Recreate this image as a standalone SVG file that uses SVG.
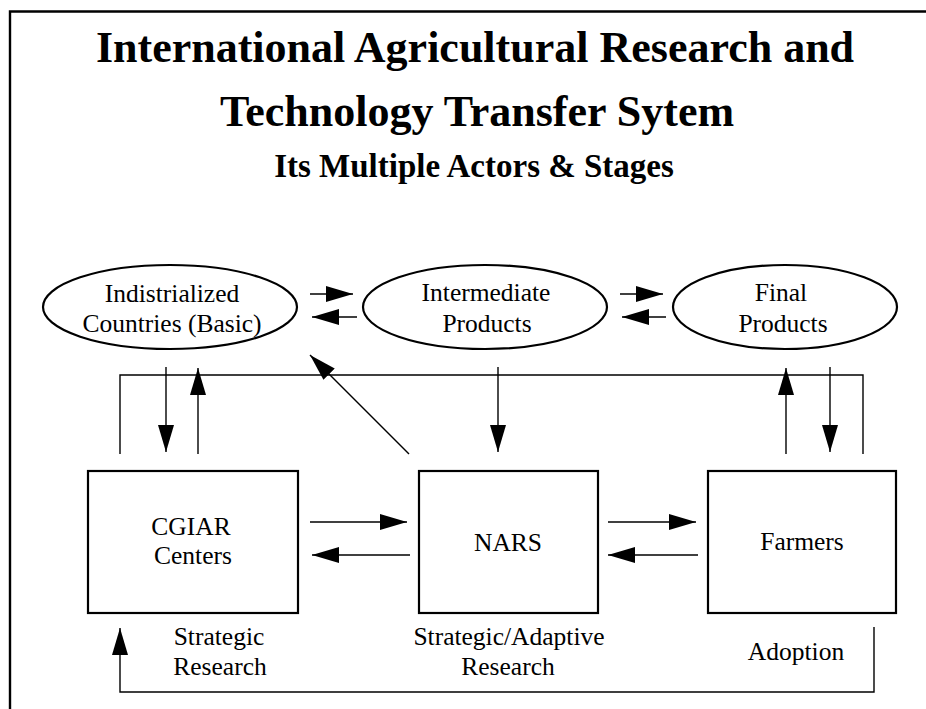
<svg xmlns="http://www.w3.org/2000/svg" width="926" height="709" viewBox="0 0 926 709">
<defs>
<style>
.t{font-family:"Liberation Serif","Times New Roman",serif;fill:#000;text-anchor:middle}
.h{font-weight:bold}
.n{font-size:25.5px}
.shape{fill:#fff;stroke:#000;stroke-width:2.2}
.c{fill:none;stroke:#000;stroke-width:1.4}
.a{marker-end:url(#ah)}
</style>
<marker id="ah" markerUnits="userSpaceOnUse" markerWidth="28" markerHeight="17" refX="27" refY="8" orient="auto">
<path d="M0,0 L27,8 L0,16 Z" fill="#000"/>
</marker>
</defs>
<rect width="926" height="709" fill="#fff"/>
<path d="M10,709 V11.5 H926" fill="none" stroke="#000" stroke-width="2.4"/>
<g id="title">
<text class="t h" x="475" y="62" font-size="44">International Agricultural Research and</text>
<text class="t h" x="477" y="126" font-size="44">Technology Transfer Sytem</text>
<text class="t h" x="474" y="177" font-size="33">Its Multiple Actors &amp; Stages</text>
</g>
<g id="industrialized">
<ellipse class="shape" cx="170" cy="307" rx="127" ry="42"/>
<text class="t n" x="172" y="302">Indistrialized</text>
<text class="t n" x="172" y="332">Countries (Basic)</text>
</g>
<g id="intermediate">
<ellipse class="shape" cx="485" cy="307" rx="122" ry="42"/>
<text class="t n" x="486" y="301">Intermediate</text>
<text class="t n" x="487" y="332">Products</text>
</g>
<g id="final">
<ellipse class="shape" cx="785" cy="307" rx="112" ry="42"/>
<text class="t n" x="781" y="301">Final</text>
<text class="t n" x="783" y="332">Products</text>
</g>
<g id="cgiar">
<rect class="shape" x="88" y="471" width="210" height="142"/>
<text class="t n" x="191" y="535">CGIAR</text>
<text class="t n" x="193" y="564">Centers</text>
</g>
<g id="nars">
<rect class="shape" x="419" y="471" width="179" height="142"/>
<text class="t n" x="508" y="551">NARS</text>
</g>
<g id="farmers">
<rect class="shape" x="708" y="471" width="188" height="142"/>
<text class="t n" x="802" y="550">Farmers</text>
</g>
<g id="labels">
<text class="t n" x="219" y="645">Strategic</text>
<text class="t n" x="220" y="675">Research</text>
<text class="t n" x="509" y="645">Strategic/Adaptive</text>
<text class="t n" x="508" y="675">Research</text>
<text class="t n" x="796" y="660">Adoption</text>
</g>
<g id="connectors">
<path class="c a" d="M310,294 H353"/>
<path class="c a" d="M357,317 H312"/>
<path class="c a" d="M620,294 H663"/>
<path class="c a" d="M666,317 H622"/>
<path class="c a" d="M166,367 V452"/>
<path class="c a" d="M198,454 V368"/>
<path class="c a" d="M409,454 L310,355"/>
<path class="c a" d="M498,367 V452"/>
<path class="c a" d="M786,454 V368"/>
<path class="c a" d="M830,367 V452"/>
<path class="c" d="M120,454 V375 H863 V454"/>
<path class="c a" d="M310,522 H407"/>
<path class="c a" d="M410,555 H312"/>
<path class="c a" d="M608,522 H696"/>
<path class="c a" d="M698,555 H608"/>
<path class="c a" d="M874,627 V692 H120 V628"/>
</g>
</svg>
